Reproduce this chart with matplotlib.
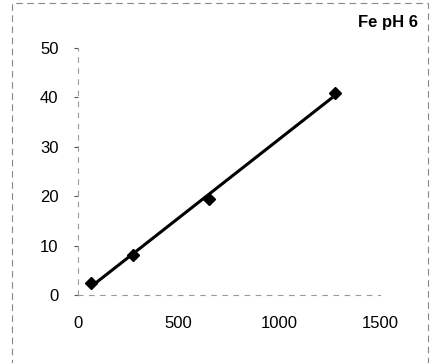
import numpy as np
import matplotlib
matplotlib.use('Agg')
import matplotlib.pyplot as plt
from matplotlib.patches import Rectangle

# data
conc = [65, 275, 651, 1277]
signal = [2.6, 8.2, 19.4, 41.0]
x_ticks = [0, 500, 1000, 1500]
y_ticks = [0, 10, 20, 30, 40, 50]
title = "Fe pH 6"

plt.rcParams['font.family'] = ['Liberation Sans', 'DejaVu Sans']

fig = plt.figure(figsize=(4.32, 3.63), dpi=100)
ax = fig.add_axes([0.1806, 0.186, 0.699, 0.6818])

# linear trendline through the points
slope, icpt = np.polyfit(conc, signal, 1)
xs = np.array([conc[0], conc[-1]])
ax.plot(xs, slope * xs + icpt, color='black', lw=2.2, solid_capstyle='round', zorder=2)
ax.plot(conc, signal, 'D', color='black', ms=6, zorder=3)

ax.set_xlim(0, 1500)
ax.set_ylim(0, 50)
ax.set_xticks(x_ticks)
ax.set_yticks(y_ticks)
ax.tick_params(axis='y', length=3, width=0.8, color='#555555', pad=11, labelsize=12)
ax.tick_params(axis='x', length=0, pad=15, labelsize=12)

for s in ['top', 'right']:
    ax.spines[s].set_visible(False)
for s in ['left', 'bottom']:
    ax.spines[s].set_linestyle((0, (4, 6)))
    ax.spines[s].set_color('#999999')
    ax.spines[s].set_linewidth(0.8)

fig.text(418 / 432, 1 - 22 / 363, title, ha='right', va='center',
         fontsize=12, fontweight='bold')

# dashed outer chart border from the scan
fig.patches.append(Rectangle((12 / 432, -0.01), (428 - 12) / 432, 1 - 3 / 363 + 0.01,
                             transform=fig.transFigure, fill=False,
                             edgecolor='#888888', lw=0.8, ls=(0, (6, 4))))

fig.savefig('out.png', dpi=100)
